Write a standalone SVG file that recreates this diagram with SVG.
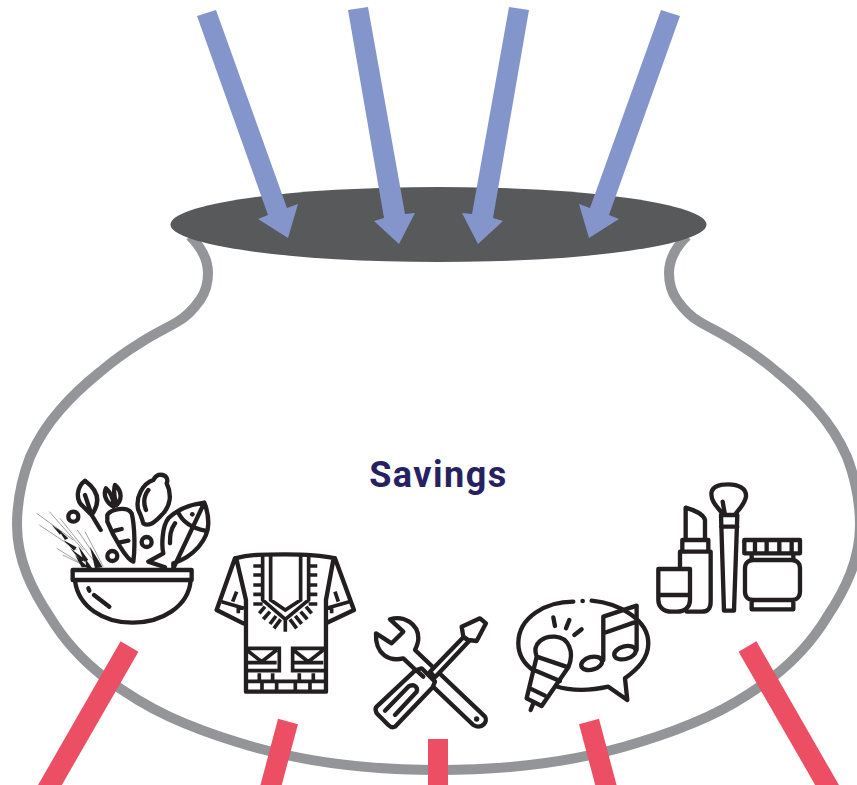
<svg xmlns="http://www.w3.org/2000/svg" width="857" height="785" viewBox="0 0 857 785">
<style>
.pot{fill:none;stroke:#939598;stroke-width:10}
.rim{fill:#58595b}
.in{fill:#8495cc}
.out{stroke:#ec4e63;fill:none}
.ic{fill:none;stroke:#231f20;stroke-width:13;stroke-linecap:round;stroke-linejoin:round}
.w{fill:#fff}
.ic2{fill:none;stroke:#231f20;stroke-width:11;stroke-linejoin:miter}
.dot{fill:#231f20;stroke:none}
.th{fill:none;stroke:#6d6e71;stroke-width:2}
.lbl{font-family:Roboto,"Liberation Sans",Arial,sans-serif;font-weight:700;font-size:36px;letter-spacing:1.5px;fill:#262261;text-anchor:middle}
</style>
<rect width="857" height="785" fill="#fff"/>
<g id="pot">
<path class="pot" d="M190 236C200 246 208 258 208 273C208 285 205 293 200 300C193 310 186 317 177 322C165 329 152 335 140 343C127 351 113 361 100 372C85 384 72 396 60 410C46 426 37 441 30 457C22 478 17 500 17 525C17 560 32 590 50 617C64 640 82 660 104 677C124 692 146 706 170 717C192 727 214 735 237 742C300 762 370 770 438.5 770C507 770 577 762 640 742C663 735 685 727 707 717C731 706 753 692 773 677C795 660 813 640 827 617C845 590 860 560 860 525C860 500 855 478 847 457C840 441 831 426 817 410C805 396 792 384 777 372C764 361 750 351 737 343C725 335 712 329 700 322C691 317 684 310 677 300C672 293 669 285 669 273C669 258 677 246 687 236"/>
<ellipse class="rim" cx="438.5" cy="224.5" rx="268" ry="37.5"/>
</g>
<g id="savings"><text class="lbl" x="438.500" y="487">Savings</text></g>
<g id="food" transform="translate(20 460) scale(.3333)">
<path class="ic" d="M158 330H515V360H158ZM165 362C175 440 250 488 338 488C425 488 505 440 512 362M205 385L208 392M222 405L268 440"/>
<path class="ic" d="M195 62C170 80 165 120 190 140L215 165C240 130 240 95 195 62ZM195 105L215 165L242 210"/>
<circle class="ic" cx="160" cy="170" r="15"/><circle class="ic" cx="380" cy="246" r="15"/><circle class="ic" cx="277" cy="288" r="15"/>
<path class="ic" d="M262 165C270 150 320 135 335 160C345 200 345 270 340 305C320 300 280 230 262 185ZM285 212L305 207M300 247L325 242M280 140C255 125 250 100 258 85C270 95 278 110 282 135M290 135C305 120 308 95 285 75C280 90 282 110 290 135"/>
<path class="ic" d="M415 45C440 40 445 60 440 70C455 100 455 140 420 170C400 190 385 200 370 190C365 175 365 170 355 150C345 110 370 70 400 60C405 50 410 47 415 45ZM385 90C370 110 370 130 378 150"/>
<path class="ic" d="M553 128C500 135 470 150 445 175C425 200 425 260 430 280L385 305L435 322M460 325V310C520 290 565 240 565 190C565 165 560 145 553 128ZM475 158C490 190 520 205 555 212M465 190C450 210 450 230 450 250"/>
<circle class="dot" cx="517" cy="163" r="7"/>
<path class="th" d="M50 160L160 240M58 195L170 270M88 155L190 270M120 175L220 300M128 285L210 325M172 210L240 310M195 215L250 320M110 265L200 320"/>
<path class="dot" d="M95 195L125 215L120 224ZM130 240L170 262L162 272ZM150 265L195 298L185 305ZM175 258L205 300L192 305ZM210 260L248 322L225 325ZM195 295L218 326L200 326ZM112 205L145 235L135 240ZM165 285L205 322L185 322Z"/>
<path class="ic" d="M645 295C690 283 730 283 795 283C860 283 900 285 945 295M645 295L590 450L670 490M945 295L1002 450L918 490M650 300L678 420V695H918V420L940 300"/>
<path class="ic2" d="M728 285V420L796 478L866 420V285M752 285V420L796 450L842 420V285M700 318H728M700 345H728M700 375H728M700 403H728M700 432H728M866 318H892M866 345H892M866 375H892M866 403H892M866 432H892M735 440L718 460M750 455L730 478M768 468L750 492M782 478L762 505M796 480V515M810 478L830 505M826 468L845 492M842 455L862 478M858 440L875 460M605 425L672 445M988 425L920 445M650 395L638 425M945 395L955 425M655 440V460M935 440V460"/>
<path class="ic2" d="M678 565H778V632H678M918 565H818V632H918M680 570L725 605L770 570M820 570L865 605L910 570M680 608H770M820 608H910M678 664H918M718 640V664M758 640V664M838 640V664M880 640V664M726 668V695M770 668V695M826 668V695M870 668V695"/>
</g>
<g id="tools" transform="translate(360 580) scale(.3333)">
<path class="ic" d="M90 118C130 105 175 130 175 175C175 190 170 200 165 210L375 410C385 425 365 450 340 435L130 235C90 245 45 225 48 160L95 190L130 155Z"/>
<circle class="dot" cx="350" cy="417" r="8"/>
<path class="ic w" d="M210 275L310 172L328 182L225 292Z"/>
<path class="ic w" d="M305 140L360 115L378 130L350 183L325 180L310 170Z"/>
<path class="ic w" d="M165 272L185 265L225 305L218 322L105 440C95 445 90 440 85 435L50 400C45 390 45 385 50 380ZM190 290L170 272"/>
<path class="ic" d="M75 392L145 320C160 310 175 320 170 335L105 405"/>
</g>
<g id="music" transform="translate(360 580) scale(.3333)">
<path class="ic" d="M640 65C560 65 475 110 475 190C475 230 495 255 525 275M585 318C640 335 700 330 745 320L802 360L795 295C835 265 865 235 865 190C865 120 780 70 695 62"/>
<circle class="dot" cx="668" cy="63" r="7"/>
<path class="ic" d="M580 112L585 138M628 120L618 145M665 148L643 165"/>
<path class="ic w" d="M530 230C515 190 550 168 585 170C625 172 645 215 625 262ZM530 230L500 355L545 378L625 262M522 270L600 303M510 325L555 347M520 370L512 390"/>
<path class="ic" d="M730 110L830 77V125L730 160ZM730 110V240M830 77V210"/>
<ellipse class="ic" cx="695" cy="250" rx="32" ry="19" transform="rotate(-15 695 250)"/>
<ellipse class="ic" cx="795" cy="218" rx="33" ry="19" transform="rotate(-15 795 218)"/>
</g>
<g id="cosmetics" transform="translate(640 470) scale(.3333)">
<path class="ic" d="M137 113V210H195V150C190 130 160 120 137 113ZM127 210H205V245H127ZM120 290V245H212V395C212 415 205 425 185 425H140"/>
<path class="ic" d="M55 297H150V390C150 410 135 425 110 425H95C70 425 55 410 55 390ZM55 375H150"/>
<path class="ic" d="M243 135H292L282 422H252ZM243 170H292M247 130C230 110 210 90 215 65C220 45 250 43 265 43C295 43 320 55 318 80C315 100 300 115 288 130M248 95L255 135"/>
<path class="ic" d="M313 210H480V250H313ZM345 210V250M380 210V250M418 210V250M455 210V250M335 250H460V270H335ZM340 270H455C470 270 480 280 480 295V365C480 380 470 390 455 390H340C325 390 315 380 315 365V295C315 280 325 270 340 270ZM335 390V418H460V390"/>
</g>
<g id="connectors">
<polygon class="in" points="197,16 216,10 287,208 298,204 288,238 258,219 268,215"/>
<polygon class="in" points="348,10 368,7 405,214 415,213 399,244 374,221 384,218"/>
<polygon class="in" points="529,10 509,7 472,214 462,213 478,244 503,221 493,218"/>
<polygon class="in" points="680,16 661,10 590,208 579,204 589,238 619,219 609,215"/>
<path class="out" stroke-width="20.6" d="M129.500 646.500L46.500 791"/>
<path class="out" stroke-width="20.6" d="M288 721.500L269.500 791"/>
<path class="out" stroke-width="20" d="M438 739V790"/>
<path class="out" stroke-width="20.6" d="M589 721.500L607.500 791"/>
<path class="out" stroke-width="20.6" d="M747.500 646.500L830.500 791"/>
</g>
</svg>
